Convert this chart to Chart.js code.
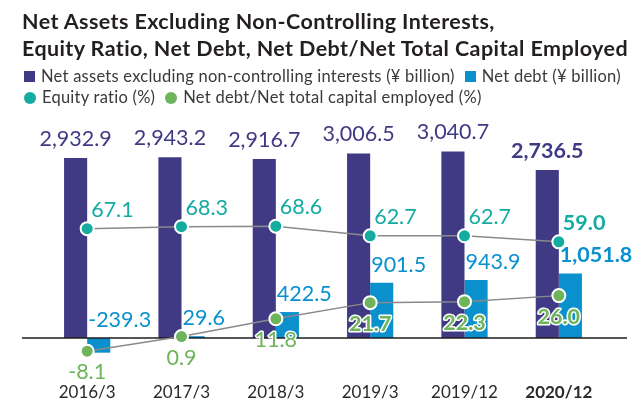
<!DOCTYPE html>
<html>
<head>
<meta charset="utf-8">
<script src="https://cdn.jsdelivr.net/npm/chart.js@4"></script>
<style>
body{margin:0;background:#fff;font-family:Lato,sans-serif;}
#wrap{position:relative;width:633px;height:403px;overflow:hidden;}
canvas{position:absolute;left:0;top:0;}
#title{position:absolute;left:22px;top:8px;font-weight:700;font-size:21.5px;letter-spacing:0.4px;line-height:27px;color:#231f20;white-space:nowrap;}
.leg{position:absolute;left:24px;font-size:16.5px;letter-spacing:0.25px;line-height:21px;color:#3a3a3a;white-space:nowrap;}
.item{display:inline-flex;align-items:center;margin-right:10px;}
.mk{display:inline-block;width:11px;height:11px;margin-right:6px;}
.mk.c{width:12px;height:12px;border-radius:50%;}
</style>
</head>
<body>
<div id="wrap">
  <canvas id="chart" width="633" height="403"></canvas>
  <div id="title">Net Assets Excluding Non-Controlling Interests,<br>Equity Ratio, Net Debt, Net Debt/Net Total Capital Employed</div>
  <div class="leg" style="top:66px">
    <span class="item"><span class="mk" style="background:#403a84"></span>Net assets excluding non-controlling interests (¥ billion)</span><span class="item"><span class="mk" style="background:#0a90cd"></span>Net debt (¥ billion)</span>
  </div>
  <div class="leg" style="top:87px">
    <span class="item"><span class="mk c" style="background:#14aba1"></span>Equity ratio (%)</span><span class="item"><span class="mk c" style="background:#6db45a"></span>Net debt/Net total capital employed (%)</span>
  </div>
</div>
<script>
// Data
const years = ['2016/3', '2017/3', '2018/3', '2019/3', '2019/12', '2020/12'];
const netAssets = [2932.9, 2943.2, 2916.7, 3006.5, 3040.7, 2736.5];
const netDebt = [-239.3, 29.6, 422.5, 901.5, 943.9, 1051.8];
const equityRatio = [67.1, 68.3, 68.6, 62.7, 62.7, 59.0];
const debtRatio = [-8.1, 0.9, 11.8, 21.7, 22.3, 26.0];

const PURPLE = '#403a84', BLUE = '#0a90cd', TEAL = '#14aba1', GREEN = '#6db45a';
const last = years.length - 1;
const fmt = v => v.toLocaleString('en-US', { minimumFractionDigits: 1, maximumFractionDigits: 1 });
const fnt = (bold) => (bold ? 'bold ' : '') + '21.5px Lato, sans-serif';

// zero line, wider than the plot area
const zeroLine = {
  id: 'zeroLine',
  afterDatasetDraw(chart, args) {
    if (args.index !== 0) return;
    const ctx = chart.ctx;
    const y = chart.scales.yb.getPixelForValue(0);
    ctx.save();
    ctx.strokeStyle = '#1e1e1e';
    ctx.lineWidth = 1.3;
    ctx.beginPath();
    ctx.moveTo(22, y);
    ctx.lineTo(627, y);
    ctx.stroke();
    ctx.restore();
  }
};

// value labels
const valueLabels = {
  id: 'valueLabels',
  afterDatasetsDraw(chart) {
    const ctx = chart.ctx;
    ctx.save();
    ctx.textBaseline = 'alphabetic';

    ctx.fillStyle = PURPLE;
    ctx.textAlign = 'center';
    chart.getDatasetMeta(0).data.forEach((b, i) => {
      ctx.font = fnt(i === last);
      ctx.fillText(fmt(netAssets[i]), b.x, b.y - 12);
    });

    ctx.fillStyle = BLUE;
    ctx.textAlign = 'left';
    chart.getDatasetMeta(1).data.forEach((b, i) => {
      ctx.font = fnt(i === last);
      ctx.fillText(fmt(netDebt[i]), b.x - b.width / 2 + 1, Math.min(b.y, b.base) - 11);
    });

    ctx.fillStyle = TEAL;
    chart.getDatasetMeta(2).data.forEach((p, i) => {
      ctx.font = fnt(i === last);
      ctx.fillText(fmt(equityRatio[i]), p.x + 4, p.y - 12);
    });

    ctx.textAlign = 'center';
    ctx.strokeStyle = '#fff';
    ctx.lineWidth = 3;
    ctx.lineJoin = 'round';
    ctx.fillStyle = GREEN;
    chart.getDatasetMeta(3).data.forEach((p, i) => {
      ctx.font = fnt(i >= 3);
      const t = fmt(debtRatio[i]);
      ctx.strokeText(t, p.x, p.y + 28);
      ctx.fillText(t, p.x, p.y + 28);
    });
    ctx.restore();
  }
};

const lineStyle = color => ({
  type: 'line',
  yAxisID: 'yp',
  borderColor: '#8a8a8a',
  borderWidth: 1.5,
  pointBackgroundColor: color,
  pointBorderColor: '#fff',
  pointBorderWidth: 2,
  pointRadius: 6.5,
  tension: 0
});

new Chart(document.getElementById('chart').getContext('2d'), {
  type: 'bar',
  data: {
    labels: years,
    datasets: [
      { label: 'Net assets excluding non-controlling interests (¥ billion)', data: netAssets, backgroundColor: PURPLE, yAxisID: 'yb', order: 2 },
      { label: 'Net debt (¥ billion)', data: netDebt, backgroundColor: BLUE, yAxisID: 'yb', order: 3 },
      { label: 'Equity ratio (%)', data: equityRatio, order: 1, ...lineStyle(TEAL) },
      { label: 'Net debt/Net total capital employed (%)', data: debtRatio, order: 0, ...lineStyle(GREEN) }
    ]
  },
  options: {
    responsive: false,
    animation: false,
    layout: { padding: { left: 40, right: 27, top: 120, bottom: 2 } },
    datasets: { bar: { categoryPercentage: 0.49, barPercentage: 1 } },
    plugins: { legend: { display: false }, tooltip: { enabled: false } },
    scales: {
      x: {
        grid: { display: false, drawTicks: false },
        border: { display: false },
        afterFit: scale => { scale.height = 36; },
        ticks: {
          color: '#2a2a2a',
          padding: 19,
          maxRotation: 0,
          autoSkip: false,
          font: ctx => ({ family: 'Lato', size: 17, lineHeight: 1, weight: ctx.index === last ? 'bold' : 'normal' })
        }
      },
      yb: { display: false, min: -440, max: 3552 },
      yp: { display: false, min: -16.56, max: 133.74 }
    }
  },
  plugins: [zeroLine, valueLabels]
});
</script>
</body>
</html>
